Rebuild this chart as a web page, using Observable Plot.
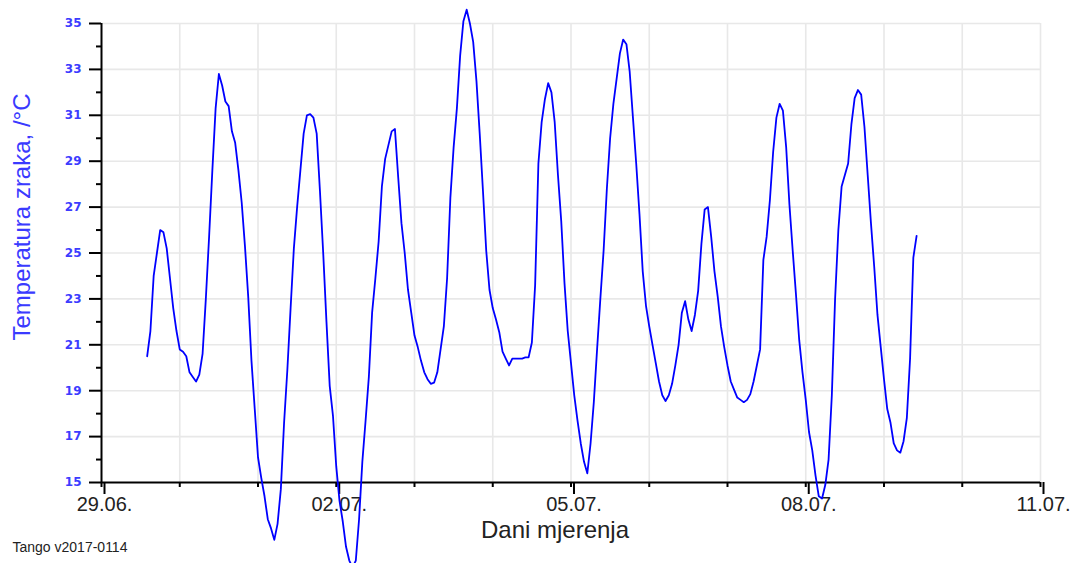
<!DOCTYPE html>
<html>
<head>
<meta charset="utf-8">
<script src="https://cdn.jsdelivr.net/npm/d3@7"></script>
<script src="https://cdn.jsdelivr.net/npm/@observablehq/plot@0.6"></script>
<style>
  html, body { margin: 0; padding: 0; background: #fff; }
  #chart svg { display: block; }
</style>
</head>
<body>
<div id="chart"></div>
<script>
// Hourly air temperature (°C), first reading 29.06. 14:00
const seriesStart = "2017-06-29T14:00:00Z";
const t2906 = [20.5, 21.6, 24.0, 25.0, 26.0, 25.9, 25.2, 23.9, 22.6, 21.6];
const t3006 = [20.8, 20.7, 20.5, 19.8, 19.6, 19.4, 19.7, 20.6, 23.0, 25.7, 28.6, 31.3, 32.8, 32.3, 31.6, 31.4, 30.3, 29.8, 28.6, 27.2, 25.3, 23.1, 20.3, 18.2];
const t0107 = [16.1, 15.2, 14.4, 13.4, 13.0, 12.5, 13.2, 14.7, 17.6, 19.9, 22.6, 25.2, 27.0, 28.6, 30.2, 31.0, 31.05, 30.9, 30.2, 27.7, 25.0, 22.0, 19.2, 17.9];
const t0207 = [15.7, 14.2, 13.3, 12.2, 11.6, 11.3, 11.6, 13.4, 15.9, 17.7, 19.6, 22.4, 23.9, 25.5, 27.9, 29.1, 29.7, 30.3, 30.4, 28.3, 26.3, 25.0, 23.4, 22.4];
const t0307 = [21.4, 20.9, 20.3, 19.8, 19.5, 19.3, 19.35, 19.8, 20.8, 21.8, 23.9, 27.4, 29.6, 31.3, 33.6, 35.1, 35.6, 35.0, 34.2, 32.5, 30.2, 27.7, 25.1, 23.4];
const t0407 = [22.6, 22.1, 21.55, 20.7, 20.4, 20.1, 20.4, 20.4, 20.4, 20.4, 20.45, 20.45, 21.1, 23.6, 28.9, 30.7, 31.7, 32.4, 32.0, 30.7, 28.4, 26.4, 23.7, 21.6];
const t0507 = [20.2, 18.8, 17.7, 16.7, 15.9, 15.4, 16.7, 18.5, 20.8, 23.0, 25.1, 27.8, 30.0, 31.5, 32.6, 33.7, 34.3, 34.1, 32.9, 30.9, 28.9, 26.7, 24.2, 22.7];
const t0607 = [21.8, 21.0, 20.2, 19.4, 18.8, 18.55, 18.8, 19.3, 20.1, 21.0, 22.4, 22.9, 22.1, 21.6, 22.3, 23.35, 25.4, 26.9, 27.0, 25.7, 24.2, 23.1, 21.8, 20.9];
const t0707 = [20.1, 19.4, 19.05, 18.7, 18.6, 18.5, 18.6, 18.85, 19.4, 20.1, 20.8, 24.7, 25.7, 27.3, 29.4, 30.9, 31.5, 31.2, 29.6, 27.1, 25.1, 23.2, 21.2, 19.8];
const t0807 = [18.6, 17.2, 16.4, 15.3, 14.4, 14.3, 14.9, 16.0, 18.8, 23.0, 26.0, 27.9, 28.4, 28.9, 30.6, 31.75, 32.1, 31.9, 30.5, 28.4, 26.3, 24.4, 22.3, 20.9];
const t0907 = [19.5, 18.2, 17.6, 16.7, 16.4, 16.3, 16.8, 17.8, 20.4, 24.8, 25.75];

const yMajorTicks = [15, 17, 19, 21, 23, 25, 27, 29, 31, 33, 35];
const yMinorTicks = [16, 18, 20, 22, 24, 26, 28, 30, 32, 34];
const xMajorTicks = ["2017-06-29", "2017-07-02", "2017-07-05", "2017-07-08", "2017-07-11"];
const xMinorTicks = ["2017-06-29", "2017-06-30", "2017-07-01", "2017-07-02", "2017-07-03", "2017-07-04",
                     "2017-07-05", "2017-07-06", "2017-07-07", "2017-07-08", "2017-07-09", "2017-07-10", "2017-07-11"];
const yTitle = "Temperatura zraka, /°C";
const xTitle = "Dani mjerenja";
const caption = "Tango v2017-0114";

const temps = [].concat(t2906, t3006, t0107, t0207, t0307, t0407, t0507, t0607, t0707, t0807, t0907);
const start = new Date(seriesStart);
const data = temps.map((v, i) => ({ time: new Date(+start + i * 3600e3), temp: v }));
const xMajor = xMajorTicks.map(d => new Date(d + "T00:00:00Z"));
const xMinor = xMinorTicks.map(d => new Date(d + "T00:00:00Z"));
const xDomain = [xMinor[0], xMinor[xMinor.length - 1]];

const chart = Plot.plot({
  width: 1073,
  height: 563,
  marginLeft: 101,
  marginRight: 33,
  marginTop: 23,
  marginBottom: 81,
  style: { fontFamily: "'Liberation Sans', Arial, sans-serif", background: "#fff", overflow: "visible" },
  x: { type: "utc", domain: xDomain },
  y: { domain: [15, 35] },
  marks: [
    Plot.gridX(xMinor.slice(1), { stroke: "#e8e8e8", strokeOpacity: 1, strokeWidth: 1.6 }),
    Plot.gridY(yMajorTicks.filter(d => d > 15), { stroke: "#e8e8e8", strokeOpacity: 1, strokeWidth: 1.6 }),
    Plot.axisY(yMajorTicks, { tickSize: 12, tickPadding: 8, stroke: "#000", strokeWidth: 2, fill: "#3c3cff",
      fontSize: 12, fontFamily: "'DejaVu Sans', sans-serif", fontWeight: "bold", label: null, tickFormat: d => String(d) }),
    Plot.axisY(yMinorTicks, { tickSize: 5, text: null, stroke: "#000", strokeWidth: 2, label: null }),
    Plot.axisX(xMajor, { tickSize: 12, tickPadding: 2, stroke: "#000", strokeWidth: 2, fill: "#222",
      fontSize: 20, dx: 3, label: null, tickFormat: d3.utcFormat("%d.%m.") }),
    Plot.axisX(xMinor, { tickSize: 5, text: null, stroke: "#000", strokeWidth: 2, label: null }),
    Plot.ruleX([xDomain[0]], { stroke: "#000", strokeWidth: 2 }),
    Plot.ruleY([15], { stroke: "#000", strokeWidth: 2 }),
    Plot.line(data, { x: "time", y: "temp", stroke: "#0000ff", strokeWidth: 1.8 }),
    Plot.text([yTitle], { text: d => d, frameAnchor: "left", textAnchor: "middle", rotate: -90, dx: -79, dy: -36,
      fill: "#3a3aff", fontSize: 24 }),
    Plot.text([xTitle], { text: d => d, frameAnchor: "bottom", dx: -16, dy: 55, fill: "#222", fontSize: 24 }),
    Plot.text([caption], { text: d => d, frameAnchor: "bottom-left", textAnchor: "start", dx: -89, dy: 69,
      fill: "#222", fontSize: 14 })
  ]
});
document.getElementById("chart").appendChild(chart);
</script>
</body>
</html>
